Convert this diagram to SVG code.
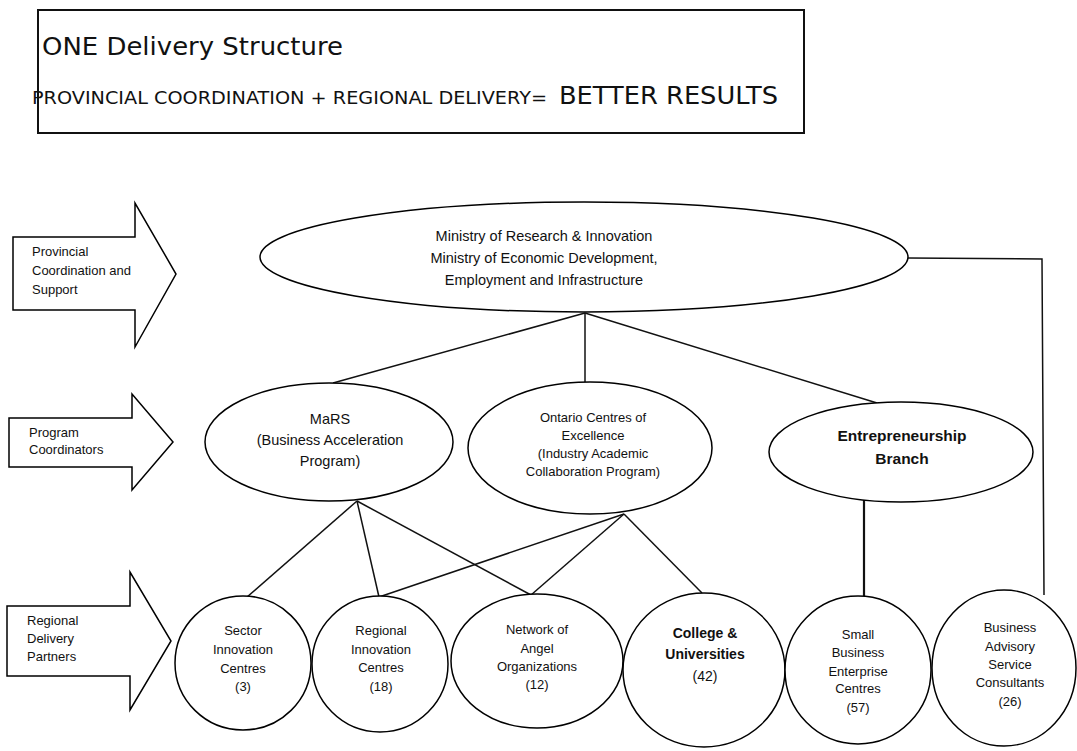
<svg xmlns="http://www.w3.org/2000/svg" width="1077" height="751" viewBox="0 0 1077 751">
<style>
.bg{fill:#fff}
.shape{fill:#fff;stroke:#000;stroke-width:1.5}
.conn line,.conn polyline{stroke:#111;stroke-width:1.5;fill:none}
.t{font-family:"Liberation Sans",Arial,sans-serif;fill:#111;text-anchor:middle}
.tl{font-family:"Liberation Sans",Arial,sans-serif;fill:#111;font-size:13px}
.title{font-family:"DejaVu Sans","Verdana",sans-serif;fill:#111}
</style>
<rect class="bg" x="0" y="0" width="1077" height="751"/>

<g id="title">
<rect x="38" y="10" width="766" height="123" fill="#fff" stroke="#111" stroke-width="2"/>
<text class="title" x="42" y="55" font-size="25" textLength="301" lengthAdjust="spacingAndGlyphs">ONE Delivery Structure</text>
<text class="title" x="32" y="104" font-size="17.5" textLength="515" lengthAdjust="spacingAndGlyphs">PROVINCIAL COORDINATION + REGIONAL DELIVERY=</text>
<text class="title" x="559" y="104" font-size="24" textLength="219" lengthAdjust="spacingAndGlyphs">BETTER RESULTS</text>
</g>

<g id="arrow-provincial">
<polygon class="shape" points="13,237 135,237 135,203 176,274 135,347 135,310 13,310"/>
<text class="tl" x="32" y="256">Provincial</text>
<text class="tl" x="32" y="275">Coordination and</text>
<text class="tl" x="32" y="294">Support</text>
</g>

<g id="arrow-program">
<polygon class="shape" points="9,418 132,418 132,394 173,442 132,490 132,467 9,467"/>
<text class="tl" x="29" y="437">Program</text>
<text class="tl" x="29" y="454">Coordinators</text>
</g>

<g id="arrow-regional">
<polygon class="shape" points="7,606 130,606 130,572 171,641 130,710 130,676 7,676"/>
<text class="tl" x="27" y="625">Regional</text>
<text class="tl" x="27" y="643">Delivery</text>
<text class="tl" x="27" y="661">Partners</text>
</g>

<g class="conn" id="connectors">
<polyline points="908,258 1042,259 1044,595"/>
<line x1="585" y1="313" x2="333" y2="383"/>
<line x1="585" y1="313" x2="585" y2="382"/>
<line x1="585" y1="313" x2="877" y2="403"/>
<line x1="864" y1="500" x2="864" y2="596" style="stroke-width:2.2"/>
<line x1="357" y1="501" x2="247" y2="597"/>
<line x1="357" y1="501" x2="379" y2="597"/>
<line x1="357" y1="501" x2="531" y2="595"/>
<line x1="624" y1="514" x2="379" y2="597"/>
<line x1="624" y1="514" x2="531" y2="595"/>
<line x1="624" y1="514" x2="702" y2="593"/>
</g>

<g id="ministry">
<ellipse class="shape" cx="584" cy="257" rx="324" ry="55"/>
<text class="t" x="544" y="241" font-size="14.5">Ministry of Research &amp; Innovation</text>
<text class="t" x="544" y="263" font-size="14.5">Ministry of Economic Development,</text>
<text class="t" x="544" y="285" font-size="14.5">Employment and Infrastructure</text>
</g>

<g id="mars">
<ellipse class="shape" cx="329" cy="442" rx="124" ry="59"/>
<text class="t" x="330" y="424" font-size="14.5">MaRS</text>
<text class="t" x="330" y="445" font-size="14.5">(Business Acceleration</text>
<text class="t" x="330" y="466" font-size="14.5">Program)</text>
</g>

<g id="oce">
<ellipse class="shape" cx="590" cy="448" rx="122" ry="66"/>
<text class="t" x="593" y="422" font-size="13">Ontario Centres of</text>
<text class="t" x="593" y="440" font-size="13">Excellence</text>
<text class="t" x="593" y="458" font-size="13">(Industry Academic</text>
<text class="t" x="593" y="476" font-size="13">Collaboration  Program)</text>
</g>

<g id="entrepreneurship">
<ellipse class="shape" cx="901" cy="452" rx="132" ry="50"/>
<text class="t" x="902" y="441" font-size="15.5" font-weight="bold">Entrepreneurship</text>
<text class="t" x="902" y="464" font-size="15.5" font-weight="bold">Branch</text>
</g>

<g id="sector">
<ellipse class="shape" cx="243" cy="663" rx="68" ry="67"/>
<text class="t" x="243" y="635" font-size="13">Sector</text>
<text class="t" x="243" y="654" font-size="13">Innovation</text>
<text class="t" x="243" y="673" font-size="13">Centres</text>
<text class="t" x="243" y="691" font-size="13">(3)</text>
</g>

<g id="regional-innovation">
<ellipse class="shape" cx="380" cy="664" rx="68" ry="68"/>
<text class="t" x="381" y="635" font-size="13">Regional</text>
<text class="t" x="381" y="654" font-size="13">Innovation</text>
<text class="t" x="381" y="672" font-size="13">Centres</text>
<text class="t" x="381" y="691" font-size="13">(18)</text>
</g>

<g id="angel">
<ellipse class="shape" cx="537" cy="661" rx="86" ry="67"/>
<text class="t" x="537" y="634" font-size="13">Network of</text>
<text class="t" x="537" y="653" font-size="13">Angel</text>
<text class="t" x="537" y="671" font-size="13">Organizations</text>
<text class="t" x="537" y="689" font-size="13">(12)</text>
</g>

<g id="college">
<ellipse class="shape" cx="704" cy="670" rx="81" ry="77"/>
<text class="t" x="705" y="638" font-size="14" font-weight="bold">College &amp;</text>
<text class="t" x="705" y="659" font-size="14" font-weight="bold">Universities</text>
<text class="t" x="705" y="681" font-size="14">(42)</text>
</g>

<g id="sbec">
<ellipse class="shape" cx="858" cy="670" rx="73" ry="74"/>
<text class="t" x="858" y="639" font-size="13">Small</text>
<text class="t" x="858" y="657" font-size="13">Business</text>
<text class="t" x="858" y="676" font-size="13">Enterprise</text>
<text class="t" x="858" y="693" font-size="13">Centres</text>
<text class="t" x="858" y="712" font-size="13">(57)</text>
</g>

<g id="basc">
<ellipse class="shape" cx="1004" cy="668" rx="72" ry="78"/>
<text class="t" x="1010" y="632" font-size="13">Business</text>
<text class="t" x="1010" y="651" font-size="13">Advisory</text>
<text class="t" x="1010" y="669" font-size="13">Service</text>
<text class="t" x="1010" y="687" font-size="13">Consultants</text>
<text class="t" x="1010" y="706" font-size="13">(26)</text>
</g>
</svg>
